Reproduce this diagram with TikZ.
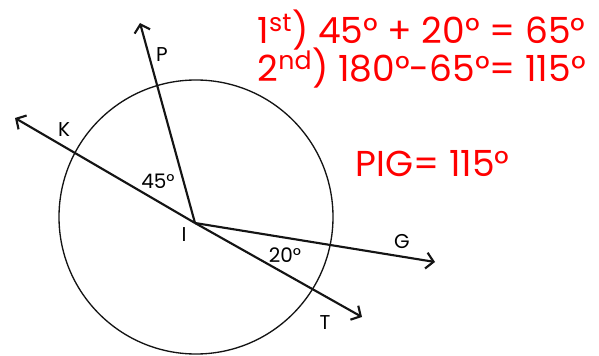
\documentclass[tikz,border=0pt]{standalone}
\usepackage{fontspec}
\setmainfont{Poppins}
\usetikzlibrary{arrows.meta}
\definecolor{MarkRed}{RGB}{255,0,0}
\definecolor{RayBlack}{RGB}{20,20,20}

\begin{document}
\begin{tikzpicture}[x=0.75pt,y=-0.75pt,
    >={Straight Barb[length=5.5pt,width=12pt]},
    ray/.style={->,line width=1.6pt,RayBlack},
    lbl/.style={font=\fontsize{15}{15}\selectfont},
    note/.style={MarkRed,anchor=base west,font=\fontsize{27}{27}\selectfont}]
  \useasboundingbox (0,0) rectangle (599,356);
  % circle and rays from I
  \draw[line width=1pt,RayBlack] (196,217) circle[radius=137];
  \coordinate (I) at (195,223);
  \coordinate (P) at (140,23);
  \coordinate (K) at (15,118);
  \coordinate (G) at (435,262);
  \coordinate (T) at (362,317);
  \foreach \e in {P,K,G,T}
    \draw[ray] (I) -- (\e);
  % point and angle labels
  \node[lbl] (labP) at (162,55) {P};
  \node[lbl] (labK) at (64,130) {K};
  \node[lbl] (labI) at (184,235) {I};
  \node[lbl] (labG) at (402,242) {G};
  \node[lbl] (labT) at (325,323) {T};
  \node[lbl] (angPK) at (158,181) {45°};
  \node[lbl] (angGT) at (285,255) {20°};
  % worked answer
  \node[note] (first) at (253,44) {1\textsuperscript{st}) 45° + 20° = 65°};
  \node[note] (second) at (253,82) {2\textsuperscript{nd}) 180°-65°= 115°};
  \node[note] (answer) at (351,176) {PIG= 115°};
\end{tikzpicture}
\end{document}
